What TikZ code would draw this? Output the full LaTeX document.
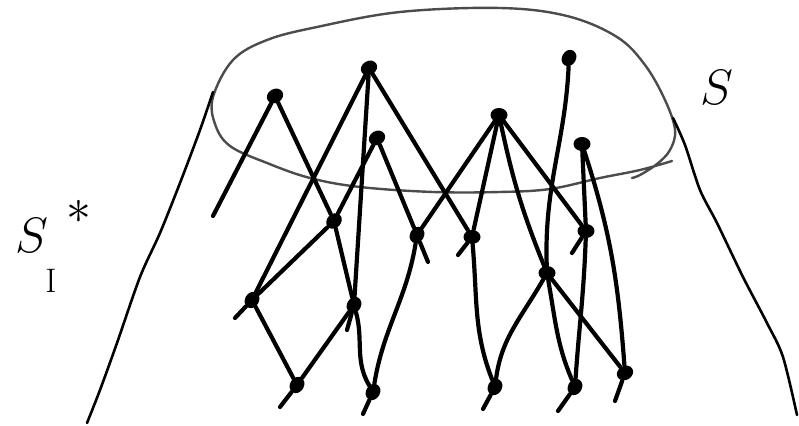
\documentclass[tikz,border=0pt]{standalone}
\usetikzlibrary{shapes.geometric}
\begin{document}
\begin{tikzpicture}[x=0.5pt,y=-0.5pt,
  dot/.style={ellipse,fill=black,inner sep=0pt,minimum width=8.5pt,minimum height=7pt},
  edge/.style={line width=2.1pt,line cap=round,black},
  rim/.style={line width=1.2pt,line cap=round,black!70},
  side/.style={line width=1.3pt,line cap=round,black},
  lab/.style={inner sep=0pt,anchor=center}]
\useasboundingbox (0,0) rectangle (799,426);

% surface S (closed-ish rim)
\draw[rim] plot[smooth,tension=0.6] coordinates {(672,161) (640,170) (600,178) (550,189) (500,192) (433,192) (360,187) (310,178) (267,163) (230,146) (215,124) (213,97) (233,60) (267,40) (317,27) (400,12) (500,8) (567,16) (617,37) (645,65) (665,100) (675,130) (670,150) (657,164) (640,175) (632,178)};

% outer sides
\draw[side] plot[smooth,tension=0.5] coordinates {(213,92) (200,130) (180,183) (160,233) (140,277) (117,343) (100,390) (87,423)};
\draw[side] plot[smooth,tension=0.5] coordinates {(673,118) (685,145) (700,190) (717,223) (743,277) (767,323) (783,357) (797,415)};

% nodes
\node[dot,rotate=30] (A) at (275,96) {};
\node[dot,rotate=30] (B) at (369,68) {};
\node[dot,rotate=30] (C) at (377,138) {};
\node[dot] (D) at (499,115) {};
\node[dot,rotate=60] (E) at (569,58) {};
\node[dot] (F) at (582,144) {};
\node[dot,rotate=45] (G) at (334,221) {};
\node[dot,rotate=60] (H) at (417,235) {};
\node[dot] (I) at (472,237) {};
\node[dot] (J) at (586,231) {};
\node[dot] (K) at (547,273) {};
\node[dot,rotate=60] (L) at (252,300) {};
\node[dot,rotate=60] (M) at (354,305) {};
\node[dot,rotate=60] (N) at (297,385) {};
\node[dot,rotate=60] (O) at (373,392) {};
\node[dot,rotate=60] (P) at (495,387) {};
\node[dot,rotate=60] (Q) at (575,387) {};
\node[dot,rotate=30] (R) at (625,373) {};

% free ends
\coordinate (fa) at (213,216);
\coordinate (fh) at (428,262);
\coordinate (fi) at (458,255);
\coordinate (fj) at (572,253);
\coordinate (fl) at (235,318);
\coordinate (fm) at (347,330);
\coordinate (fn) at (280,407);
\coordinate (fo) at (363,414);
\coordinate (fp) at (483,409);
\coordinate (fq) at (558,411);
\coordinate (fr) at (615,401);

% connectors
\draw[edge] (A) -- (fa);
\draw[edge] (A) -- (G);
\draw[edge] (B) -- (L);
\draw[edge] (B) -- (M);
\draw[edge] (B) -- (I);
\draw[edge] (C) -- (G);
\draw[edge] (C) -- (H);
\draw[edge] (H) -- (fh);
\draw[edge] (D) -- (H);
\draw[edge] (D) -- (I);
\draw[edge] (D) to[out=-78,in=112] (K);
\draw[edge] (D) -- (J);
\draw[edge] (E) to[out=-97,in=92] (K);
\draw[edge] (F) -- (J);
\draw[edge] (F) to[out=-72,in=92] (R);
\draw[edge] (G) -- (L);
\draw[edge] (G) -- (M);
\draw[edge] (I) -- (fi);
\draw[edge] (I) to[out=-85,in=105] (P);
\draw[edge] (J) -- (fj);
\draw[edge] (J) to[out=-92,in=80] (Q);
\draw[edge] (K) to[out=-120,in=75] (P);
\draw[edge] (K) to[out=-80,in=105] (Q);
\draw[edge] (K) -- (R);
\draw[edge] (L) -- (N);
\draw[edge] (L) -- (fl);
\draw[edge] (M) to[out=-85,in=110] (O);
\draw[edge] (M) -- (N);
\draw[edge] (M) -- (fm);
\draw[edge] (H) to[out=-105,in=75] (O);
\draw[edge] (N) -- (fn);
\draw[edge] (O) -- (fo);
\draw[edge] (P) -- (fp);
\draw[edge] (Q) -- (fq);
\draw[edge] (R) -- (fr);

% labels
\node[lab] (Slab) at (717,88) {\fontsize{30}{30}\selectfont$S$};
\node[lab] (SIlab) at (32,236) {\fontsize{36}{36}\selectfont$S$};
\node[lab] (star) at (79,212) {\fontsize{24}{24}\selectfont$\ast$};
\node[lab] (Ilab) at (51,281) {\fontsize{17}{17}\selectfont I};
\end{tikzpicture}
\end{document}
